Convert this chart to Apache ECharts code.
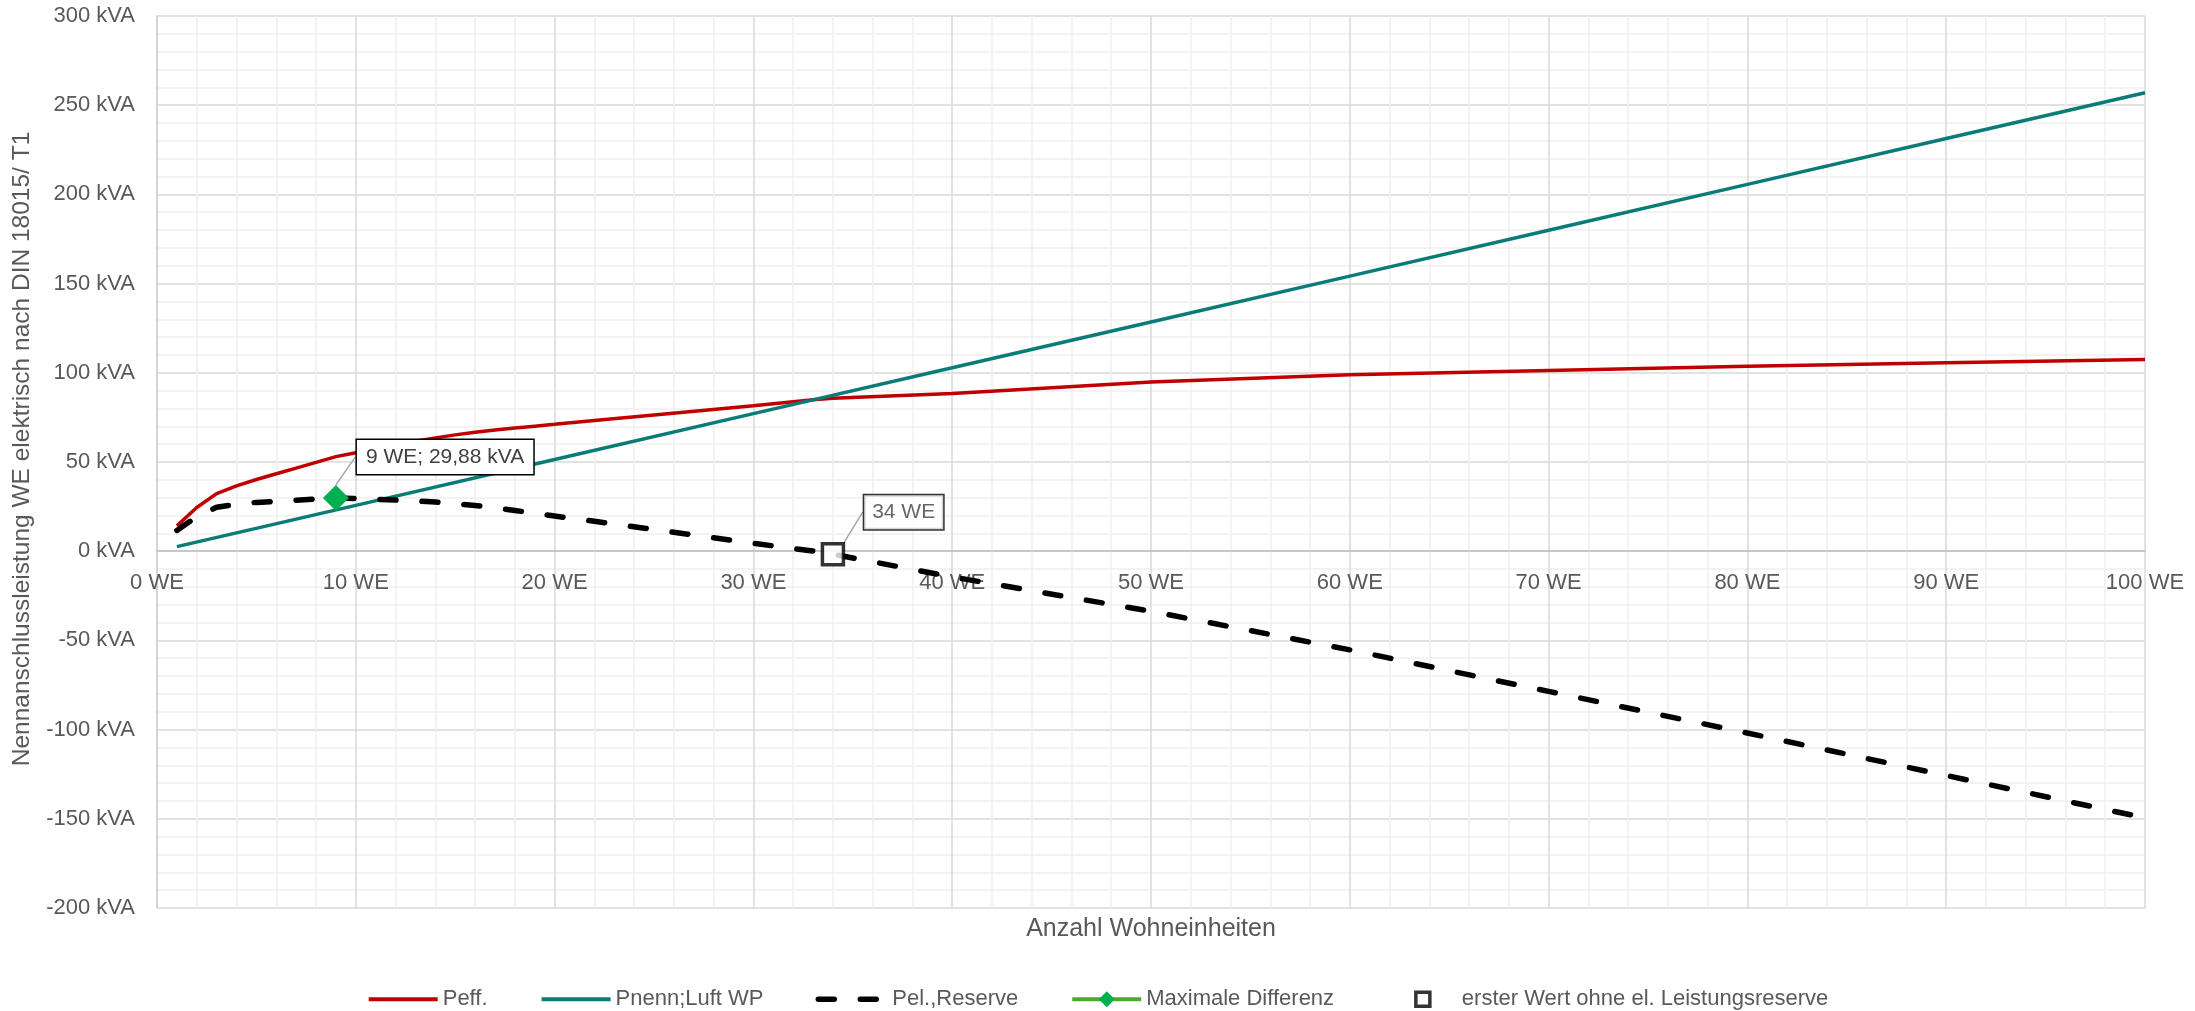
<!DOCTYPE html>
<html>
<head>
<meta charset="utf-8">
<script src="https://cdn.jsdelivr.net/npm/echarts@6/dist/echarts.min.js"></script>
<style>
  html, body { margin: 0; padding: 0; background: #ffffff; }
  #chart { width: 2195px; height: 1011px; }
</style>
</head>
<body>
<div id="chart"></div>
<script>
// Anzahl Wohneinheiten (WE)
const nWE = [1, 2, 3, 4, 5, 6, 7, 8, 9, 10, 11, 12, 13, 14, 15, 16, 17, 18, 19, 20,
             22, 25, 30, 33, 34, 40, 50, 60, 70, 80, 90, 100];
// Peff. in kVA
const pEff = [14.2, 24.5, 32.3, 36.6, 40.2, 43.4, 46.6, 49.8, 53.01, 55.2, 57.4, 59.5, 61.6, 63.5, 65.2, 66.7, 68.0, 69.1, 70.1, 71.1,
              73.3, 76.4, 81.5, 84.9, 85.7, 88.4, 94.8, 98.9, 101.3, 103.7, 105.6, 107.5];
// Pel.,Reserve in kVA
const pReserve = [11.63, 19.36, 24.59, 26.32, 27.35, 27.98, 28.61, 29.24, 29.88, 29.5, 29.13, 28.66, 28.19, 27.52, 26.65, 25.58, 24.31, 22.84, 21.27, 19.7,
                  16.76, 12.15, 4.4, 0.09, -1.68, -14.4, -33.7, -55.3, -78.6, -101.9, -125.7, -149.5];
// Pnenn;Luft WP in kVA
const nWENenn = [1, 10, 20, 30, 40, 50, 60, 70, 80, 90, 100];
const pNenn = [2.57, 25.7, 51.4, 77.1, 102.8, 128.5, 154.2, 179.9, 205.6, 231.3, 257];
// Maximale Differenz / erster Wert ohne el. Leistungsreserve
const maxDiffPoint = [9, 29.88];
const firstNoReservePoint = [34, -1.68];

const seriesNames = ['Peff.', 'Pnenn;Luft WP', 'Pel.,Reserve', 'Maximale Differenz', 'erster Wert ohne el. Leistungsreserve'];
const yTicks = { min: -200, max: 300, interval: 50 };
const xTicks = { min: 0, max: 100, interval: 10 };
const xAxisTitle = 'Anzahl Wohneinheiten';
const yAxisTitle = 'Nennanschlussleistung WE elektrisch nach DIN 18015/ T1';

const pairs = (xs, ys) => xs.map((x, i) => [x, ys[i]]);
const deNum = v => v.toFixed(2).replace('.', ',');

const FONT = 'Liberation Sans';
const TXT = '#595959';

const W = 2195, H = 1011;
const GRID = { left: 157, right: 50, top: 16, bottom: 103 };
const plotH = H - GRID.top - GRID.bottom;
// distance of the zero line above the bottom edge of the plot
const zeroLift = plotH * (0 - yTicks.min) / (yTicks.max - yTicks.min);

const chart = echarts.init(document.getElementById('chart'));
chart.setOption({
  animation: false,
  backgroundColor: '#ffffff',
  textStyle: { fontFamily: FONT },
  grid: Object.assign({ containLabel: false }, GRID),
  legend: {
    bottom: -5,
    left: 'center',
    itemWidth: 69,
    itemHeight: 20,
    itemGap: 52,
    textStyle: { fontFamily: FONT, fontSize: 22, color: TXT },
    lineStyle: { width: 4 },
    data: [
      { name: seriesNames[0], itemStyle: { opacity: 0 } },
      { name: seriesNames[1], itemStyle: { opacity: 0 } },
      { name: seriesNames[2], itemStyle: { opacity: 0 }, lineStyle: { width: 5.5, cap: 'round' } },
      seriesNames[3],
      { name: seriesNames[4], icon: 'path://M0,0M69,20M28,3H42V17H28Z', itemStyle: { borderWidth: 3.5 } }
    ]
  },
  graphic: [{
    type: 'text',
    x: GRID.left + (W - GRID.left - GRID.right) / 2,
    y: 929,
    style: {
      text: xAxisTitle, fill: TXT, font: '25px "' + FONT + '"',
      textAlign: 'center', textVerticalAlign: 'middle'
    }
  }],
  xAxis: [{
    type: 'value',
    min: xTicks.min, max: xTicks.max, interval: xTicks.interval,
    axisLine: { onZero: true, lineStyle: { color: '#bfbfbf', width: 1.5 } },
    axisTick: { show: false },
    axisLabel: { show: false },
    splitLine: { show: true, lineStyle: { color: '#d9d9d9', width: 1.5 } },
    minorTick: { show: false, splitNumber: 5 },
    minorSplitLine: { show: true, lineStyle: { color: '#f0f0f0', width: 1.5 } }
  }, {
    // tick labels placed along the zero line
    type: 'value',
    position: 'bottom',
    offset: -zeroLift,
    min: xTicks.min, max: xTicks.max, interval: xTicks.interval,
    axisLine: { show: false, onZero: false },
    axisTick: { show: false },
    axisLabel: { formatter: '{value} WE', color: TXT, fontSize: 22, margin: 21, fontFamily: FONT },
    splitLine: { show: false }
  }],
  yAxis: {
    type: 'value',
    min: yTicks.min, max: yTicks.max, interval: yTicks.interval,
    axisLine: { show: true, lineStyle: { color: '#d0d0d0', width: 1.5 } },
    axisTick: { show: false },
    axisLabel: { formatter: '{value} kVA', color: TXT, fontSize: 22, margin: 22, fontFamily: FONT },
    splitLine: { show: true, lineStyle: { color: '#d9d9d9', width: 1.5 } },
    minorTick: { show: false, splitNumber: 5 },
    minorSplitLine: { show: true, lineStyle: { color: '#f0f0f0', width: 1.5 } },
    name: yAxisTitle,
    nameLocation: 'middle',
    nameGap: 119,
    nameTextStyle: { color: TXT, fontSize: 24.5, fontFamily: FONT, padding: [0, 0, 0, 26] }
  },
  series: [
    {
      name: seriesNames[0], type: 'line', symbol: 'none', z: 2,
      data: pairs(nWE, pEff),
      lineStyle: { color: '#c00000', width: 3.5 },
      itemStyle: { color: '#c00000' }
    },
    {
      name: seriesNames[1], type: 'line', symbol: 'none', z: 2,
      data: pairs(nWENenn, pNenn),
      lineStyle: { color: '#0b7b77', width: 3.5 },
      itemStyle: { color: '#0b7b77' }
    },
    {
      name: seriesNames[2], type: 'line', symbol: 'none', z: 3,
      data: pairs(nWE, pReserve),
      lineStyle: { color: '#000000', width: 5.5, type: [16, 26], cap: 'round' },
      itemStyle: { color: '#000000' }
    },
    {
      name: seriesNames[3], type: 'line', z: 5,
      symbol: 'diamond', symbolSize: 26,
      data: [maxDiffPoint],
      lineStyle: { color: '#4ea72e', width: 4 },
      itemStyle: { color: '#00b050' },
      label: {
        show: true, position: 'right', distance: 5,
        formatter: p => `${p.value[0]} WE; ${deNum(p.value[1])} kVA`,
        color: '#404040', fontSize: 21, fontFamily: FONT,
        backgroundColor: '#ffffff', borderColor: '#000000', borderWidth: 1.5,
        padding: [7, 9, 6, 9]
      },
      labelLayout: { dx: 3, dy: -41 },
      labelLine: { show: true, lineStyle: { color: '#a6a6a6', width: 1.5 } }
    },
    {
      name: seriesNames[4], type: 'scatter', z: 6,
      symbol: 'rect', symbolSize: 21,
      data: [firstNoReservePoint],
      itemStyle: { color: '#ffffff', borderColor: '#000000', borderWidth: 3.5 },
      label: {
        show: true, position: 'right', distance: 5,
        formatter: p => `${p.value[0]} WE`,
        color: '#404040', fontSize: 21, fontFamily: FONT,
        backgroundColor: '#ffffff', borderColor: '#000000', borderWidth: 1.5,
        padding: [7, 8, 6, 8]
      },
      labelLayout: { dx: 14, dy: -42 },
      labelLine: { show: true, lineStyle: { color: '#a6a6a6', width: 1.5 } }
    }
  ]
});
</script>
</body>
</html>
